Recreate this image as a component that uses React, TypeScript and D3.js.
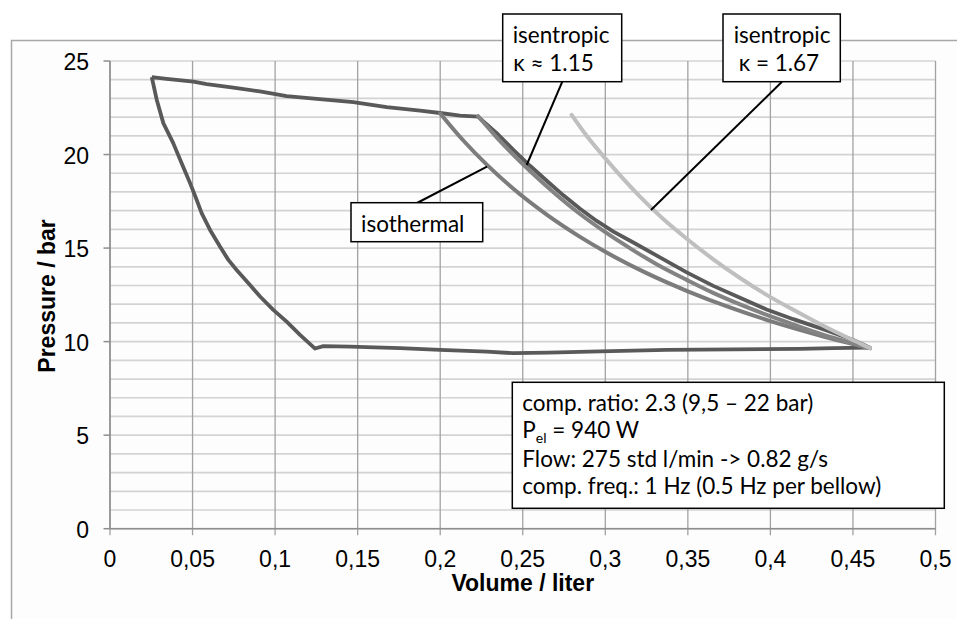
import React from 'react';
import * as d3 from 'd3';

const xTicks = [0, 0.05, 0.1, 0.15, 0.2, 0.25, 0.3, 0.35, 0.4, 0.45, 0.5];
const xTickLabels = ['0', '0,05', '0,1', '0,15', '0,2', '0,25', '0,3', '0,35', '0,4', '0,45', '0,5'];
const yTicks = [0, 5, 10, 15, 20, 25];
const yTickLabels = ['0', '5', '10', '15', '20', '25'];
const yMinorTicks = d3.range(0, 26, 1);

// measured p-V loop (volume [l], pressure [bar]) in loop order
const measuredLoop: [number, number][] = [
  [0.0253, 24.14], [0.0343, 24.05], [0.0505, 23.9], [0.0586, 23.76], [0.0747, 23.58],
  [0.0908, 23.37], [0.107, 23.12], [0.127, 22.96], [0.1474, 22.8], [0.1676, 22.53],
  [0.1878, 22.35], [0.1999, 22.22], [0.212, 22.08], [0.2229, 22.03],
  [0.2342, 21.14], [0.2443, 20.25], [0.2544, 19.4], [0.2645, 18.6], [0.2746, 17.82],
  [0.2847, 17.1], [0.2948, 16.45], [0.3049, 15.88], [0.317, 15.3], [0.3331, 14.5],
  [0.3493, 13.7], [0.3654, 12.98], [0.3816, 12.34], [0.3977, 11.72], [0.4139, 11.2],
  [0.4341, 10.6], [0.4502, 10.09], [0.4603, 9.68],
  [0.438, 9.65], [0.418, 9.61], [0.3775, 9.59], [0.3372, 9.56], [0.2968, 9.48],
  [0.2656, 9.41], [0.2443, 9.38], [0.2282, 9.47], [0.1999, 9.56], [0.1757, 9.65],
  [0.1454, 9.73], [0.1292, 9.76], [0.1242, 9.63],
  [0.1151, 10.36], [0.107, 11.07], [0.0989, 11.7], [0.0909, 12.41], [0.0848, 13.03],
  [0.0767, 13.83], [0.0717, 14.37], [0.0666, 15.08], [0.0606, 15.97], [0.0555, 16.87],
  [0.0525, 17.58], [0.0485, 18.47], [0.0434, 19.54], [0.0383, 20.61], [0.0323, 21.68],
  [0.0283, 22.93], [0.0253, 24.14],
];

const isothermal: [number, number][] = [
  [0.2, 22.2], [0.214, 20.75], [0.2282, 19.46], [0.2443, 18.17], [0.2645, 16.79],
  [0.2847, 15.6], [0.3, 14.8], [0.325, 13.66], [0.35, 12.69], [0.375, 11.84],
  [0.4, 11.1], [0.43, 10.33], [0.4603, 9.65],
];

const isentropic115: [number, number][] = [
  [0.223, 22.05], [0.2342, 20.92], [0.2544, 19.12], [0.27, 17.88], [0.2847, 16.82],
  [0.3, 15.85], [0.317, 14.88], [0.333, 14.04], [0.3493, 13.3], [0.365, 12.62],
  [0.3816, 11.99], [0.4058, 11.17], [0.43, 10.42], [0.4603, 9.65],
];

const isentropic167: [number, number][] = [
  [0.2796, 22.12], [0.2887, 21.0], [0.3009, 19.7], [0.321, 17.75], [0.3351, 16.55],
  [0.3493, 15.5], [0.3654, 14.4], [0.3816, 13.4], [0.3977, 12.5], [0.4139, 11.7],
  [0.4341, 10.75], [0.4543, 9.9], [0.4603, 9.65],
];

const W = 957;
const H = 619;
const axisFont = '"Liberation Sans", Arial, sans-serif';
const noteFont = 'Lato, "Open Sans", sans-serif';

export default function App() {
  const x = d3.scaleLinear().domain([0, 0.5]).range([110, 935.5]);
  const y = d3.scaleLinear().domain([0, 25]).range([528.7, 61]);

  const jagged = d3.line<[number, number]>().x(d => x(d[0])).y(d => y(d[1]));
  const smooth = d3
    .line<[number, number]>()
    .x(d => x(d[0]))
    .y(d => y(d[1]))
    .curve(d3.curveMonotoneX);

  const noteSize = 22.5;

  return (
    <svg
      width={W}
      height={H}
      viewBox={`0 0 ${W} ${H}`}
      style={{ position: 'absolute', left: 0, top: 0, background: '#ffffff' }}
    >
      {/* chart frame */}
      <rect x={11.5} y={40.5} width={1000} height={1000} fill="#fdfdfd" stroke="#a8a8a8" strokeWidth={1.5} />

      {/* horizontal minor gridlines */}
      {yMinorTicks.map(v => (
        <line key={'h' + v} x1={x(0)} x2={x(0.5)} y1={y(v)} y2={y(v)} stroke="#d3d3d3" strokeWidth={1.7} />
      ))}
      {/* vertical gridlines */}
      {xTicks.map(v => (
        <line key={'v' + v} x1={x(v)} x2={x(v)} y1={y(25)} y2={y(0) + 6.5} stroke="#a2a2a2" strokeWidth={1.3} />
      ))}
      {/* axes */}
      <line x1={x(0)} x2={x(0)} y1={y(25)} y2={y(0)} stroke="#8e8e8e" strokeWidth={1.5} />
      <line x1={x(0)} x2={x(0.5)} y1={y(0)} y2={y(0)} stroke="#8e8e8e" strokeWidth={1.5} />
      {yTicks.map(v => (
        <line key={'yt' + v} x1={x(0) - 6.5} x2={x(0)} y1={y(v)} y2={y(v)} stroke="#8e8e8e" strokeWidth={1.5} />
      ))}

      {/* tick labels */}
      {yTicks.map((v, i) => (
        <text key={'yl' + v} x={89} y={y(v) + 9.3} textAnchor="end" fontFamily={axisFont} fontSize={23} fill="#000">
          {yTickLabels[i]}
        </text>
      ))}
      {xTicks.map((v, i) => (
        <text key={'xl' + v} x={x(v)} y={567} textAnchor="middle" fontFamily={axisFont} fontSize={23} fill="#000">
          {xTickLabels[i]}
        </text>
      ))}

      {/* axis titles */}
      <text
        x={(x(0) + x(0.5)) / 2}
        y={591}
        textAnchor="middle"
        fontFamily={axisFont}
        fontWeight="bold"
        fontSize={23}
      >
        Volume / liter
      </text>
      <text
        transform={`translate(54.5, 296) rotate(-90)`}
        textAnchor="middle"
        fontFamily={axisFont}
        fontWeight="bold"
        fontSize={23}
      >
        Pressure / bar
      </text>

      {/* data */}
      <path d={jagged(measuredLoop) || ''} fill="none" stroke="#595959" strokeWidth={3.8} strokeLinejoin="round" />
      <path d={smooth(isothermal) || ''} fill="none" stroke="#7c7c7c" strokeWidth={4} strokeLinecap="round" />
      <path d={smooth(isentropic115) || ''} fill="none" stroke="#838383" strokeWidth={4} strokeLinecap="round" />
      <path d={smooth(isentropic167) || ''} fill="none" stroke="#bfbfbf" strokeWidth={4} strokeLinecap="round" />

      {/* leader lines */}
      <line x1={417} y1={203} x2={487} y2={166.7} stroke="#000" strokeWidth={2} />
      <line x1={562.3} y1={81.7} x2={526.7} y2={165} stroke="#000" strokeWidth={2} />
      <line x1={782} y1={81.7} x2={651} y2={210} stroke="#000" strokeWidth={2} />

      {/* annotation boxes */}
      <rect x={502.7} y={14} width={119} height={67.7} fill="#fff" stroke="#000" strokeWidth={1.5} />
      <text x={512.7} y={43.3} fontFamily={noteFont} fontSize={noteSize}>isentropic</text>
      <text x={513.3} y={70.7} fontFamily={noteFont} fontSize={noteSize}>κ ≈ 1.15</text>

      <rect x={723} y={14} width={117.3} height={67.7} fill="#fff" stroke="#000" strokeWidth={1.5} />
      <text x={733.7} y={43.3} fontFamily={noteFont} fontSize={noteSize}>isentropic</text>
      <text x={738.7} y={70.7} fontFamily={noteFont} fontSize={noteSize}>κ = 1.67</text>

      <rect x={351} y={202.7} width={131.7} height={39} fill="#fff" stroke="#000" strokeWidth={1.5} />
      <text x={361} y={231.7} fontFamily={noteFont} fontSize={noteSize}>isothermal</text>

      <rect x={512.3} y={382.3} width={432} height={126} fill="#fff" stroke="#000" strokeWidth={1.5} />
      <text x={522.3} y={410.7} fontFamily={noteFont} fontSize={noteSize}>comp. ratio: 2.3 (9,5 – 22 bar)</text>
      <text x={522.3} y={438.3} fontFamily={noteFont} fontSize={noteSize}>
        P<tspan fontSize={14} dy={5}>el</tspan>
        <tspan dy={-5}> = 940 W</tspan>
      </text>
      <text x={522.3} y={466.7} fontFamily={noteFont} fontSize={noteSize}>Flow: 275 std l/min -&gt; 0.82 g/s</text>
      <text x={522.3} y={494} fontFamily={noteFont} fontSize={noteSize}>comp. freq.: 1 Hz (0.5 Hz per bellow)</text>
    </svg>
  );
}
